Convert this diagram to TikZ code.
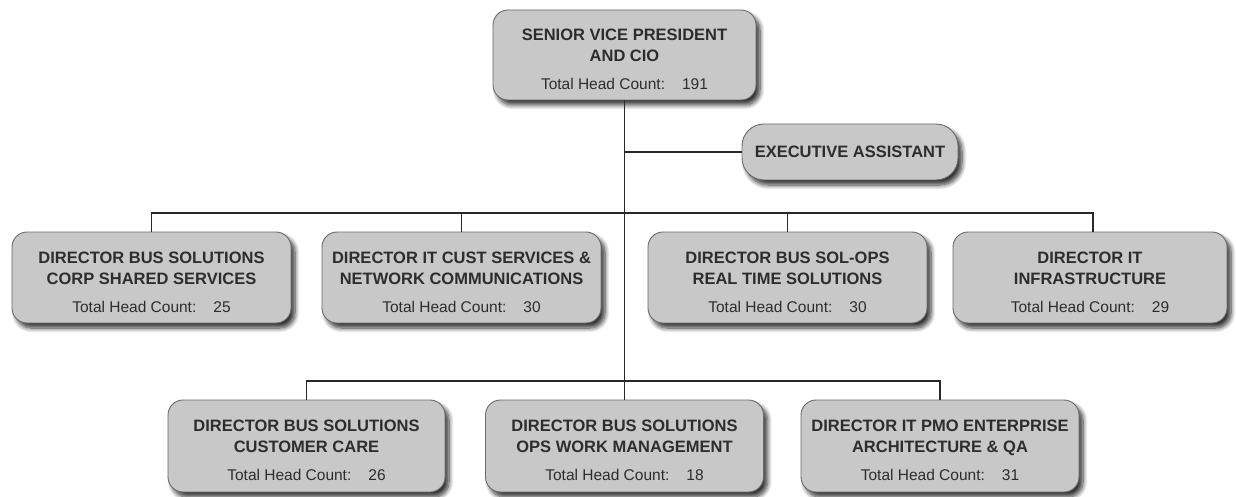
\documentclass[tikz,border=0pt]{standalone}
\usepackage{fontspec}
\setmainfont{Liberation Sans}
\usetikzlibrary{shadows.blur}
\definecolor{boxfill}{RGB}{200,200,200}
\definecolor{boxline}{RGB}{105,105,105}
\definecolor{ink}{RGB}{45,45,45}
\definecolor{wire}{RGB}{40,40,40}
\tikzset{
  orgbox/.style={draw=boxline, line width=0.9pt, fill=boxfill, rounded corners=15pt,
    minimum width=279pt, minimum height=91pt, inner sep=0pt, align=center,
    text=ink, font=\fontsize{16.5}{21}\selectfont\bfseries,
    blur shadow={shadow xshift=4pt, shadow yshift=-5pt, shadow blur steps=8,
      shadow blur radius=4.5pt, shadow opacity=80}},
  wireline/.style={draw=wire, line width=1.3pt}
}
% a title line with extra room above it, so the text block sits a bit lower
\newcommand{\toproom}{\rule{0pt}{21pt}}
\newcommand{\hc}[1]{\\[7pt]{\fontsize{15.5}{18}\selectfont\mdseries Total Head Count:\hspace{1.1em}#1}}
\begin{document}
\begin{tikzpicture}[x=1pt,y=-1pt]
  \useasboundingbox (0,0) rectangle (1236,497);

  % chief and assistant
  \node[orgbox, minimum width=263pt, minimum height=90pt] (svp) at (624.5,55)
    {\toproom SENIOR VICE PRESIDENT\\AND CIO\hc{191}};
  \node[orgbox, minimum width=216pt, minimum height=56pt, rounded corners=22pt] (ea) at (850,152)
    {EXECUTIVE ASSISTANT};

  % first tier of directors
  \node[orgbox] (d1) at (151.5,277.5) {\toproom DIRECTOR BUS SOLUTIONS\\CORP SHARED SERVICES\hc{25}};
  \node[orgbox] (d2) at (461.5,277.5) {\toproom DIRECTOR IT CUST SERVICES \&\\NETWORK COMMUNICATIONS\hc{30}};
  \node[orgbox] (d3) at (787.5,277.5) {\toproom DIRECTOR BUS SOL-OPS\\REAL TIME SOLUTIONS\hc{30}};
  \node[orgbox, minimum width=274pt] (d4) at (1090,277.5) {\toproom DIRECTOR IT\\INFRASTRUCTURE\hc{29}};

  % second tier of directors
  \node[orgbox, minimum width=277pt, minimum height=92pt] (e1) at (306.5,446) {\toproom DIRECTOR BUS SOLUTIONS\\CUSTOMER CARE\hc{26}};
  \node[orgbox, minimum width=278pt, minimum height=92pt] (e2) at (624.5,446) {\toproom DIRECTOR BUS SOLUTIONS\\OPS WORK MANAGEMENT\hc{18}};
  \node[orgbox, minimum width=278pt, minimum height=92pt] (e3) at (940,446) {\toproom DIRECTOR IT PMO ENTERPRISE\\ARCHITECTURE \& QA\hc{31}};

  % bus levels
  \coordinate (bus1) at (0,213);
  \coordinate (bus2) at (0,381);
  \coordinate (d4top) at ([xshift=3pt]d4.north);

  % connectors
  \draw[wireline] (svp.south) -- (e2.north);
  \draw[wireline] (svp.south |- ea.west) -- (ea.west);
  \draw[wireline] (d1.north) -- (d1.north |- bus1) -- (d4top |- bus1) -- (d4top);
  \draw[wireline] (d2.north |- bus1) -- (d2.north);
  \draw[wireline] (d3.north |- bus1) -- (d3.north);
  \draw[wireline] (e1.north) -- (e1.north |- bus2) -- (e3.north |- bus2) -- (e3.north);
\end{tikzpicture}
\end{document}
